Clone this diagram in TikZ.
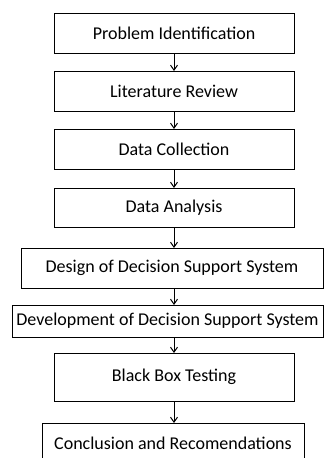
\documentclass[tikz,border=0pt]{standalone}
\usepackage{fontspec}
\setmainfont{Carlito}
\usetikzlibrary{positioning,arrows.meta}
\tikzset{
  step-box/.style={draw=black,line width=1pt,minimum height=40pt,
    minimum width=240pt,inner sep=0pt,outer sep=0pt,align=center,
    font=\fontsize{18}{20}\selectfont},
  arrow/.style={-{Straight Barb[length=5pt,width=7pt]},line width=1pt,draw=black},
}

\begin{document}
\begin{tikzpicture}[node distance=18pt]
  \useasboundingbox (0,0) rectangle (324pt,-458pt);
  \clip (0,0) rectangle (324pt,-458pt);
  \node[step-box] (ident) at (174pt,-33pt) {Problem Identification};
  \node[step-box,below=of ident]                  (review)  {Literature Review};
  \node[step-box,below=of review]                 (collect) {Data Collection};
  \node[step-box,below=19pt of collect,minimum height=39pt] (analysis) {Data Analysis};
  \node[step-box,below=21pt of analysis,xshift=-2pt,minimum width=302pt] (design) {Design of Decision Support System};
  \node[step-box,below=17pt of design,xshift=-4.5pt,minimum width=311pt,minimum height=32pt] (develop) {Development of Decision Support System};
  \node[step-box,below=16pt of develop,xshift=6.5pt,minimum height=48pt] (testing) {Black Box Testing};
  \node[step-box,below=22pt of testing,xshift=-1pt,minimum width=262pt] (concl) {Conclusion and Recomendations};
  \draw[arrow] (ident)    -- (review);
  \draw[arrow] (review)   -- (collect);
  \draw[arrow] (collect)  -- (analysis);
  \draw[arrow] (analysis) -- (analysis |- design.north);
  \draw[arrow] (design.south -| ident) -- (develop.north -| ident);
  \draw[arrow] (develop.south -| ident) -- (testing.north -| ident);
  \draw[arrow] (testing.south -| ident) -- (concl.north -| ident);
\end{tikzpicture}
\end{document}
